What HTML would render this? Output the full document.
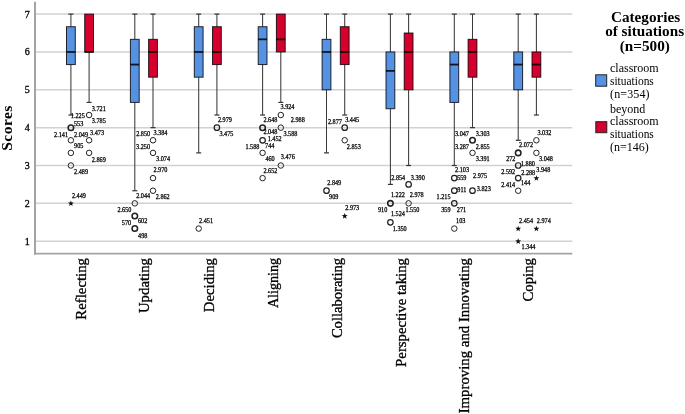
<!DOCTYPE html>
<html><head><meta charset="utf-8"><title>Boxplot</title>
<style>
html,body{margin:0;padding:0;background:#fff;overflow:hidden;}
svg{display:block;will-change:transform;}
.s{font-family:"Liberation Serif",serif;}
</style></head><body>
<svg width="685" height="414" viewBox="0 0 685 414">
<rect x="0" y="0" width="685" height="414" fill="#fff"/>
<line x1="35" y1="241.2" x2="572.3" y2="241.2" stroke="#d2d2d2" stroke-width="1.5"/>
<line x1="35" y1="203.35" x2="572.3" y2="203.35" stroke="#d2d2d2" stroke-width="1.5"/>
<line x1="35" y1="165.5" x2="572.3" y2="165.5" stroke="#d2d2d2" stroke-width="1.5"/>
<line x1="35" y1="127.65" x2="572.3" y2="127.65" stroke="#d2d2d2" stroke-width="1.5"/>
<line x1="35" y1="89.8" x2="572.3" y2="89.8" stroke="#d2d2d2" stroke-width="1.5"/>
<line x1="35" y1="51.95" x2="572.3" y2="51.95" stroke="#d2d2d2" stroke-width="1.5"/>
<line x1="35" y1="14.1" x2="572.3" y2="14.1" stroke="#d2d2d2" stroke-width="1.5"/>
<line x1="35" y1="1.7" x2="35" y2="254.7" stroke="#a4a4a4" stroke-width="2"/>
<line x1="34" y1="253.7" x2="572.3" y2="253.7" stroke="#a4a4a4" stroke-width="1.8"/>
<text class="s" x="29.8" y="244.6" font-size="10" text-anchor="end" fill="#000" stroke="#000" stroke-width="0.3">1</text>
<text class="s" x="29.8" y="206.75" font-size="10" text-anchor="end" fill="#000" stroke="#000" stroke-width="0.3">2</text>
<text class="s" x="29.8" y="168.9" font-size="10" text-anchor="end" fill="#000" stroke="#000" stroke-width="0.3">3</text>
<text class="s" x="29.8" y="131.05" font-size="10" text-anchor="end" fill="#000" stroke="#000" stroke-width="0.3">4</text>
<text class="s" x="29.8" y="93.2" font-size="10" text-anchor="end" fill="#000" stroke="#000" stroke-width="0.3">5</text>
<text class="s" x="29.8" y="55.35" font-size="10" text-anchor="end" fill="#000" stroke="#000" stroke-width="0.3">6</text>
<text class="s" x="29.8" y="17.5" font-size="10" text-anchor="end" fill="#000" stroke="#000" stroke-width="0.3">7</text>
<text class="s" font-weight="bold" font-size="15.6" letter-spacing="0.4" text-anchor="middle" fill="#000" transform="translate(11.5,128.0) rotate(-90)">Scores</text>
<line x1="70.9" y1="14.1" x2="70.9" y2="26.72" stroke="#3a3a3a" stroke-width="1.05"/>
<line x1="68.4" y1="14.1" x2="73.4" y2="14.1" stroke="#333" stroke-width="1.2"/>
<line x1="70.9" y1="64.57" x2="70.9" y2="115.03" stroke="#3a3a3a" stroke-width="1.05"/>
<line x1="68.4" y1="115.03" x2="73.4" y2="115.03" stroke="#333" stroke-width="1.2"/>
<rect x="66.5" y="26.72" width="8.8" height="37.85" fill="#5592e2" stroke="#000" stroke-opacity="0.82" stroke-width="1"/>
<line x1="66.5" y1="51.95" x2="75.3" y2="51.95" stroke="#000" stroke-opacity="0.85" stroke-width="1.8"/>
<line x1="89.1" y1="51.95" x2="89.1" y2="102.42" stroke="#3a3a3a" stroke-width="1.05"/>
<line x1="86.6" y1="102.42" x2="91.6" y2="102.42" stroke="#333" stroke-width="1.2"/>
<rect x="84.7" y="14.1" width="8.8" height="37.85" fill="#d6002f" stroke="#000" stroke-opacity="0.82" stroke-width="1"/>
<line x1="84.7" y1="51.95" x2="93.5" y2="51.95" stroke="#000" stroke-opacity="0.85" stroke-width="1.8"/>
<circle cx="70.9" cy="127.65" r="2.75" fill="none" stroke="#222" stroke-width="1.55"/>
<circle cx="70.9" cy="140.27" r="2.75" fill="none" stroke="#222" stroke-width="1.0"/>
<circle cx="70.9" cy="152.88" r="2.75" fill="none" stroke="#222" stroke-width="1.0"/>
<circle cx="70.9" cy="165.5" r="2.75" fill="none" stroke="#222" stroke-width="1.0"/>
<polygon points="70.9,200.45 71.66,202.5 73.85,202.59 72.14,203.95 72.72,206.06 70.9,204.85 69.08,206.06 69.66,203.95 67.95,202.59 70.14,202.5" fill="#111"/>
<circle cx="89.1" cy="115.03" r="2.75" fill="none" stroke="#222" stroke-width="1.0"/>
<circle cx="89.1" cy="140.27" r="2.75" fill="none" stroke="#222" stroke-width="1.0"/>
<circle cx="89.1" cy="152.88" r="2.75" fill="none" stroke="#222" stroke-width="1.0"/>
<text class="s" font-size="14.8" text-anchor="end" fill="#000" stroke="#000" stroke-width="0.32" transform="translate(85.6,258) rotate(-90)">Reflecting</text>
<line x1="134.8" y1="14.1" x2="134.8" y2="39.33" stroke="#3a3a3a" stroke-width="1.05"/>
<line x1="132.3" y1="14.1" x2="137.3" y2="14.1" stroke="#333" stroke-width="1.2"/>
<line x1="134.8" y1="102.42" x2="134.8" y2="190.73" stroke="#3a3a3a" stroke-width="1.05"/>
<line x1="132.3" y1="190.73" x2="137.3" y2="190.73" stroke="#333" stroke-width="1.2"/>
<rect x="130.4" y="39.33" width="8.8" height="63.08" fill="#5592e2" stroke="#000" stroke-opacity="0.82" stroke-width="1"/>
<line x1="130.4" y1="64.57" x2="139.2" y2="64.57" stroke="#000" stroke-opacity="0.85" stroke-width="1.8"/>
<line x1="153.0" y1="14.1" x2="153.0" y2="39.33" stroke="#3a3a3a" stroke-width="1.05"/>
<line x1="150.5" y1="14.1" x2="155.5" y2="14.1" stroke="#333" stroke-width="1.2"/>
<line x1="153.0" y1="77.18" x2="153.0" y2="127.65" stroke="#3a3a3a" stroke-width="1.05"/>
<line x1="150.5" y1="127.65" x2="155.5" y2="127.65" stroke="#333" stroke-width="1.2"/>
<rect x="148.6" y="39.33" width="8.8" height="37.85" fill="#d6002f" stroke="#000" stroke-opacity="0.82" stroke-width="1"/>
<line x1="148.6" y1="51.95" x2="157.4" y2="51.95" stroke="#000" stroke-opacity="0.85" stroke-width="1.8"/>
<circle cx="134.8" cy="203.35" r="2.75" fill="none" stroke="#222" stroke-width="1.0"/>
<circle cx="134.8" cy="215.97" r="2.75" fill="none" stroke="#222" stroke-width="1.55"/>
<circle cx="134.8" cy="228.58" r="2.75" fill="none" stroke="#222" stroke-width="1.55"/>
<circle cx="153.0" cy="140.27" r="2.75" fill="none" stroke="#222" stroke-width="1.0"/>
<circle cx="153.0" cy="152.88" r="2.75" fill="none" stroke="#222" stroke-width="1.0"/>
<circle cx="153.0" cy="178.12" r="2.75" fill="none" stroke="#222" stroke-width="1.0"/>
<circle cx="153.0" cy="190.73" r="2.75" fill="none" stroke="#222" stroke-width="1.0"/>
<text class="s" font-size="14.8" text-anchor="end" fill="#000" stroke="#000" stroke-width="0.32" transform="translate(148.8,258) rotate(-90)">Updating</text>
<line x1="198.7" y1="14.1" x2="198.7" y2="26.72" stroke="#3a3a3a" stroke-width="1.05"/>
<line x1="196.2" y1="14.1" x2="201.2" y2="14.1" stroke="#333" stroke-width="1.2"/>
<line x1="198.7" y1="77.18" x2="198.7" y2="152.88" stroke="#3a3a3a" stroke-width="1.05"/>
<line x1="196.2" y1="152.88" x2="201.2" y2="152.88" stroke="#333" stroke-width="1.2"/>
<rect x="194.3" y="26.72" width="8.8" height="50.47" fill="#5592e2" stroke="#000" stroke-opacity="0.82" stroke-width="1"/>
<line x1="194.3" y1="51.95" x2="203.1" y2="51.95" stroke="#000" stroke-opacity="0.85" stroke-width="1.8"/>
<line x1="216.9" y1="14.1" x2="216.9" y2="26.72" stroke="#3a3a3a" stroke-width="1.05"/>
<line x1="214.4" y1="14.1" x2="219.4" y2="14.1" stroke="#333" stroke-width="1.2"/>
<line x1="216.9" y1="64.57" x2="216.9" y2="115.03" stroke="#3a3a3a" stroke-width="1.05"/>
<line x1="214.4" y1="115.03" x2="219.4" y2="115.03" stroke="#333" stroke-width="1.2"/>
<rect x="212.5" y="26.72" width="8.8" height="37.85" fill="#d6002f" stroke="#000" stroke-opacity="0.82" stroke-width="1"/>
<line x1="212.5" y1="51.95" x2="221.3" y2="51.95" stroke="#000" stroke-opacity="0.85" stroke-width="1.8"/>
<circle cx="198.7" cy="228.58" r="2.75" fill="none" stroke="#222" stroke-width="1.0"/>
<circle cx="216.9" cy="127.65" r="2.75" fill="none" stroke="#222" stroke-width="1.22"/>
<text class="s" font-size="14.8" text-anchor="end" fill="#000" stroke="#000" stroke-width="0.32" transform="translate(214.2,258) rotate(-90)">Deciding</text>
<line x1="262.6" y1="14.1" x2="262.6" y2="26.72" stroke="#3a3a3a" stroke-width="1.05"/>
<line x1="260.1" y1="14.1" x2="265.1" y2="14.1" stroke="#333" stroke-width="1.2"/>
<line x1="262.6" y1="64.57" x2="262.6" y2="115.03" stroke="#3a3a3a" stroke-width="1.05"/>
<line x1="260.1" y1="115.03" x2="265.1" y2="115.03" stroke="#333" stroke-width="1.2"/>
<rect x="258.2" y="26.72" width="8.8" height="37.85" fill="#5592e2" stroke="#000" stroke-opacity="0.82" stroke-width="1"/>
<line x1="258.2" y1="39.33" x2="267.0" y2="39.33" stroke="#000" stroke-opacity="0.85" stroke-width="1.8"/>
<line x1="280.8" y1="51.95" x2="280.8" y2="102.42" stroke="#3a3a3a" stroke-width="1.05"/>
<line x1="278.3" y1="102.42" x2="283.3" y2="102.42" stroke="#333" stroke-width="1.2"/>
<rect x="276.4" y="14.1" width="8.8" height="37.85" fill="#d6002f" stroke="#000" stroke-opacity="0.82" stroke-width="1"/>
<line x1="276.4" y1="39.33" x2="285.2" y2="39.33" stroke="#000" stroke-opacity="0.85" stroke-width="1.8"/>
<circle cx="262.6" cy="127.65" r="2.75" fill="none" stroke="#222" stroke-width="1.55"/>
<circle cx="262.6" cy="140.27" r="2.75" fill="none" stroke="#222" stroke-width="1.22"/>
<circle cx="262.6" cy="152.88" r="2.75" fill="none" stroke="#222" stroke-width="1.0"/>
<circle cx="262.6" cy="178.12" r="2.75" fill="none" stroke="#222" stroke-width="1.0"/>
<circle cx="280.8" cy="115.03" r="2.75" fill="none" stroke="#222" stroke-width="1.0"/>
<circle cx="280.8" cy="127.65" r="2.75" fill="none" stroke="#222" stroke-width="1.0"/>
<circle cx="280.8" cy="165.5" r="2.75" fill="none" stroke="#222" stroke-width="1.0"/>
<text class="s" font-size="14.8" text-anchor="end" fill="#000" stroke="#000" stroke-width="0.32" textLength="50.1" lengthAdjust="spacingAndGlyphs" transform="translate(278.3,258) rotate(-90)">Aligning</text>
<line x1="326.5" y1="14.1" x2="326.5" y2="39.33" stroke="#3a3a3a" stroke-width="1.05"/>
<line x1="324.0" y1="14.1" x2="329.0" y2="14.1" stroke="#333" stroke-width="1.2"/>
<line x1="326.5" y1="89.8" x2="326.5" y2="152.88" stroke="#3a3a3a" stroke-width="1.05"/>
<line x1="324.0" y1="152.88" x2="329.0" y2="152.88" stroke="#333" stroke-width="1.2"/>
<rect x="322.1" y="39.33" width="8.8" height="50.47" fill="#5592e2" stroke="#000" stroke-opacity="0.82" stroke-width="1"/>
<line x1="322.1" y1="51.95" x2="330.9" y2="51.95" stroke="#000" stroke-opacity="0.85" stroke-width="1.8"/>
<line x1="344.7" y1="14.1" x2="344.7" y2="26.72" stroke="#3a3a3a" stroke-width="1.05"/>
<line x1="342.2" y1="14.1" x2="347.2" y2="14.1" stroke="#333" stroke-width="1.2"/>
<line x1="344.7" y1="64.57" x2="344.7" y2="115.03" stroke="#3a3a3a" stroke-width="1.05"/>
<line x1="342.2" y1="115.03" x2="347.2" y2="115.03" stroke="#333" stroke-width="1.2"/>
<rect x="340.3" y="26.72" width="8.8" height="37.85" fill="#d6002f" stroke="#000" stroke-opacity="0.82" stroke-width="1"/>
<line x1="340.3" y1="51.95" x2="349.1" y2="51.95" stroke="#000" stroke-opacity="0.85" stroke-width="1.8"/>
<circle cx="326.5" cy="190.73" r="2.75" fill="none" stroke="#222" stroke-width="1.22"/>
<circle cx="344.7" cy="127.65" r="2.75" fill="none" stroke="#222" stroke-width="1.22"/>
<circle cx="344.7" cy="140.27" r="2.75" fill="none" stroke="#222" stroke-width="1.0"/>
<polygon points="344.7,213.07 345.46,215.11 347.65,215.21 345.94,216.57 346.52,218.67 344.7,217.47 342.88,218.67 343.46,216.57 341.75,215.21 343.94,215.11" fill="#111"/>
<text class="s" font-size="14.8" text-anchor="end" fill="#000" stroke="#000" stroke-width="0.32" textLength="80.1" lengthAdjust="spacingAndGlyphs" transform="translate(341.9,258) rotate(-90)">Collaborating</text>
<line x1="390.4" y1="14.1" x2="390.4" y2="51.95" stroke="#3a3a3a" stroke-width="1.05"/>
<line x1="387.9" y1="14.1" x2="392.9" y2="14.1" stroke="#333" stroke-width="1.2"/>
<line x1="390.4" y1="108.72" x2="390.4" y2="184.43" stroke="#3a3a3a" stroke-width="1.05"/>
<line x1="387.9" y1="184.43" x2="392.9" y2="184.43" stroke="#333" stroke-width="1.2"/>
<rect x="386.0" y="51.95" width="8.8" height="56.77" fill="#5592e2" stroke="#000" stroke-opacity="0.82" stroke-width="1"/>
<line x1="386.0" y1="70.88" x2="394.8" y2="70.88" stroke="#000" stroke-opacity="0.85" stroke-width="1.8"/>
<line x1="408.6" y1="14.1" x2="408.6" y2="33.02" stroke="#3a3a3a" stroke-width="1.05"/>
<line x1="406.1" y1="14.1" x2="411.1" y2="14.1" stroke="#333" stroke-width="1.2"/>
<line x1="408.6" y1="89.8" x2="408.6" y2="165.5" stroke="#3a3a3a" stroke-width="1.05"/>
<line x1="406.1" y1="165.5" x2="411.1" y2="165.5" stroke="#333" stroke-width="1.2"/>
<rect x="404.2" y="33.02" width="8.8" height="56.77" fill="#d6002f" stroke="#000" stroke-opacity="0.82" stroke-width="1"/>
<line x1="404.2" y1="51.95" x2="413.0" y2="51.95" stroke="#000" stroke-opacity="0.85" stroke-width="1.8"/>
<circle cx="390.4" cy="203.35" r="2.75" fill="none" stroke="#222" stroke-width="1.55"/>
<circle cx="390.4" cy="222.28" r="2.75" fill="none" stroke="#222" stroke-width="1.22"/>
<circle cx="408.6" cy="184.43" r="2.75" fill="none" stroke="#222" stroke-width="1.22"/>
<circle cx="408.6" cy="203.35" r="2.75" fill="none" stroke="#222" stroke-width="1.0"/>
<text class="s" font-size="14.8" text-anchor="end" fill="#000" stroke="#000" stroke-width="0.32" transform="translate(405.9,258) rotate(-90)">Perspective taking</text>
<line x1="454.3" y1="14.1" x2="454.3" y2="51.95" stroke="#3a3a3a" stroke-width="1.05"/>
<line x1="451.8" y1="14.1" x2="456.8" y2="14.1" stroke="#333" stroke-width="1.2"/>
<line x1="454.3" y1="102.42" x2="454.3" y2="165.5" stroke="#3a3a3a" stroke-width="1.05"/>
<line x1="451.8" y1="165.5" x2="456.8" y2="165.5" stroke="#333" stroke-width="1.2"/>
<rect x="449.9" y="51.95" width="8.8" height="50.47" fill="#5592e2" stroke="#000" stroke-opacity="0.82" stroke-width="1"/>
<line x1="449.9" y1="64.57" x2="458.7" y2="64.57" stroke="#000" stroke-opacity="0.85" stroke-width="1.8"/>
<line x1="472.5" y1="14.1" x2="472.5" y2="39.33" stroke="#3a3a3a" stroke-width="1.05"/>
<line x1="470.0" y1="14.1" x2="475.0" y2="14.1" stroke="#333" stroke-width="1.2"/>
<line x1="472.5" y1="77.18" x2="472.5" y2="127.65" stroke="#3a3a3a" stroke-width="1.05"/>
<line x1="470.0" y1="127.65" x2="475.0" y2="127.65" stroke="#333" stroke-width="1.2"/>
<rect x="468.1" y="39.33" width="8.8" height="37.85" fill="#d6002f" stroke="#000" stroke-opacity="0.82" stroke-width="1"/>
<line x1="468.1" y1="51.95" x2="476.9" y2="51.95" stroke="#000" stroke-opacity="0.85" stroke-width="1.8"/>
<circle cx="454.3" cy="178.12" r="2.75" fill="none" stroke="#222" stroke-width="1.22"/>
<circle cx="454.3" cy="190.73" r="2.75" fill="none" stroke="#222" stroke-width="1.22"/>
<circle cx="454.3" cy="203.35" r="2.75" fill="none" stroke="#222" stroke-width="1.22"/>
<circle cx="454.3" cy="228.58" r="2.75" fill="none" stroke="#222" stroke-width="1.0"/>
<circle cx="472.5" cy="140.27" r="2.75" fill="none" stroke="#222" stroke-width="1.55"/>
<circle cx="472.5" cy="152.88" r="2.75" fill="none" stroke="#222" stroke-width="1.0"/>
<circle cx="472.5" cy="190.73" r="2.75" fill="none" stroke="#222" stroke-width="1.22"/>
<text class="s" font-size="14.8" text-anchor="end" fill="#000" stroke="#000" stroke-width="0.32" transform="translate(469.0,258) rotate(-90)">Improving and Innovating</text>
<line x1="518.2" y1="14.1" x2="518.2" y2="51.95" stroke="#3a3a3a" stroke-width="1.05"/>
<line x1="515.7" y1="14.1" x2="520.7" y2="14.1" stroke="#333" stroke-width="1.2"/>
<line x1="518.2" y1="89.8" x2="518.2" y2="140.27" stroke="#3a3a3a" stroke-width="1.05"/>
<line x1="515.7" y1="140.27" x2="520.7" y2="140.27" stroke="#333" stroke-width="1.2"/>
<rect x="513.8" y="51.95" width="8.8" height="37.85" fill="#5592e2" stroke="#000" stroke-opacity="0.82" stroke-width="1"/>
<line x1="513.8" y1="64.57" x2="522.6" y2="64.57" stroke="#000" stroke-opacity="0.85" stroke-width="1.8"/>
<line x1="536.4" y1="14.1" x2="536.4" y2="51.95" stroke="#3a3a3a" stroke-width="1.05"/>
<line x1="533.9" y1="14.1" x2="538.9" y2="14.1" stroke="#333" stroke-width="1.2"/>
<line x1="536.4" y1="77.18" x2="536.4" y2="115.03" stroke="#3a3a3a" stroke-width="1.05"/>
<line x1="533.9" y1="115.03" x2="538.9" y2="115.03" stroke="#333" stroke-width="1.2"/>
<rect x="532.0" y="51.95" width="8.8" height="25.23" fill="#d6002f" stroke="#000" stroke-opacity="0.82" stroke-width="1"/>
<line x1="532.0" y1="64.57" x2="540.8" y2="64.57" stroke="#000" stroke-opacity="0.85" stroke-width="1.8"/>
<circle cx="518.2" cy="152.88" r="2.75" fill="none" stroke="#222" stroke-width="1.55"/>
<circle cx="518.2" cy="165.5" r="2.75" fill="none" stroke="#222" stroke-width="1.22"/>
<circle cx="518.2" cy="178.12" r="2.75" fill="none" stroke="#222" stroke-width="1.22"/>
<circle cx="518.2" cy="190.73" r="2.75" fill="none" stroke="#222" stroke-width="1.0"/>
<polygon points="518.2,225.68 518.96,227.73 521.15,227.83 519.44,229.19 520.02,231.29 518.2,230.08 516.38,231.29 516.96,229.19 515.25,227.83 517.44,227.73" fill="#111"/>
<polygon points="518.2,238.3 518.96,240.35 521.15,240.44 519.44,241.8 520.02,243.91 518.2,242.7 516.38,243.91 516.96,241.8 515.25,240.44 517.44,240.35" fill="#111"/>
<circle cx="536.4" cy="140.27" r="2.75" fill="none" stroke="#222" stroke-width="1.0"/>
<circle cx="536.4" cy="152.88" r="2.75" fill="none" stroke="#222" stroke-width="1.0"/>
<polygon points="536.4,175.22 537.16,177.26 539.35,177.36 537.64,178.72 538.22,180.82 536.4,179.62 534.58,180.82 535.16,178.72 533.45,177.36 535.64,177.26" fill="#111"/>
<polygon points="536.4,225.68 537.16,227.73 539.35,227.83 537.64,229.19 538.22,231.29 536.4,230.08 534.58,231.29 535.16,229.19 533.45,227.83 535.64,227.73" fill="#111"/>
<text class="s" font-size="14.8" text-anchor="end" fill="#000" stroke="#000" stroke-width="0.32" transform="translate(533.3,258) rotate(-90)">Coping</text>
<text class="s" transform="translate(91.81,111.1) scale(0.84,1)" font-size="7.4" text-rendering="geometricPrecision" fill="#000" stroke="#000" stroke-width="0.28">3.721</text>
<text class="s" transform="translate(70.86,118.2) scale(0.84,1)" font-size="7.4" text-rendering="geometricPrecision" fill="#000" stroke="#000" stroke-width="0.28">1.225</text>
<text class="s" transform="translate(91.81,123.4) scale(0.84,1)" font-size="7.4" text-rendering="geometricPrecision" fill="#000" stroke="#000" stroke-width="0.28">3.785</text>
<text class="s" transform="translate(73.94,125.7) scale(0.84,1)" font-size="7.4" text-rendering="geometricPrecision" fill="#000" stroke="#000" stroke-width="0.28">553</text>
<text class="s" transform="translate(54.03,136.8) scale(0.84,1)" font-size="7.4" text-rendering="geometricPrecision" fill="#000" stroke="#000" stroke-width="0.28">2.141</text>
<text class="s" transform="translate(74.03,136.8) scale(0.84,1)" font-size="7.4" text-rendering="geometricPrecision" fill="#000" stroke="#000" stroke-width="0.28">2.049</text>
<text class="s" transform="translate(90.11,135.2) scale(0.84,1)" font-size="7.4" text-rendering="geometricPrecision" fill="#000" stroke="#000" stroke-width="0.28">3.473</text>
<text class="s" transform="translate(74.1,147.7) scale(0.84,1)" font-size="7.4" text-rendering="geometricPrecision" fill="#000" stroke="#000" stroke-width="0.28">905</text>
<text class="s" transform="translate(91.83,161.5) scale(0.84,1)" font-size="7.4" text-rendering="geometricPrecision" fill="#000" stroke="#000" stroke-width="0.28">2.869</text>
<text class="s" transform="translate(74.03,174.1) scale(0.84,1)" font-size="7.4" text-rendering="geometricPrecision" fill="#000" stroke="#000" stroke-width="0.28">2.489</text>
<text class="s" transform="translate(71.93,197.5) scale(0.84,1)" font-size="7.4" text-rendering="geometricPrecision" fill="#000" stroke="#000" stroke-width="0.28">2.449</text>
<text class="s" transform="translate(136.13,136.4) scale(0.84,1)" font-size="7.4" text-rendering="geometricPrecision" fill="#000" stroke="#000" stroke-width="0.28">2.850</text>
<text class="s" transform="translate(153.41,135.1) scale(0.84,1)" font-size="7.4" text-rendering="geometricPrecision" fill="#000" stroke="#000" stroke-width="0.28">3.384</text>
<text class="s" transform="translate(136.11,148.6) scale(0.84,1)" font-size="7.4" text-rendering="geometricPrecision" fill="#000" stroke="#000" stroke-width="0.28">3.250</text>
<text class="s" transform="translate(156.11,160.8) scale(0.84,1)" font-size="7.4" text-rendering="geometricPrecision" fill="#000" stroke="#000" stroke-width="0.28">3.074</text>
<text class="s" transform="translate(153.43,172.4) scale(0.84,1)" font-size="7.4" text-rendering="geometricPrecision" fill="#000" stroke="#000" stroke-width="0.28">2.970</text>
<text class="s" transform="translate(136.13,197.5) scale(0.84,1)" font-size="7.4" text-rendering="geometricPrecision" fill="#000" stroke="#000" stroke-width="0.28">2.044</text>
<text class="s" transform="translate(155.73,199.1) scale(0.84,1)" font-size="7.4" text-rendering="geometricPrecision" fill="#000" stroke="#000" stroke-width="0.28">2.862</text>
<text class="s" transform="translate(117.43,211.7) scale(0.84,1)" font-size="7.4" text-rendering="geometricPrecision" fill="#000" stroke="#000" stroke-width="0.28">2.650</text>
<text class="s" transform="translate(121.84,225.1) scale(0.84,1)" font-size="7.4" text-rendering="geometricPrecision" fill="#000" stroke="#000" stroke-width="0.28">570</text>
<text class="s" transform="translate(137.94,222.8) scale(0.84,1)" font-size="7.4" text-rendering="geometricPrecision" fill="#000" stroke="#000" stroke-width="0.28">602</text>
<text class="s" transform="translate(138.08,237.5) scale(0.84,1)" font-size="7.4" text-rendering="geometricPrecision" fill="#000" stroke="#000" stroke-width="0.28">498</text>
<text class="s" transform="translate(217.93,122.0) scale(0.84,1)" font-size="7.4" text-rendering="geometricPrecision" fill="#000" stroke="#000" stroke-width="0.28">2.979</text>
<text class="s" transform="translate(219.41,136.4) scale(0.84,1)" font-size="7.4" text-rendering="geometricPrecision" fill="#000" stroke="#000" stroke-width="0.28">3.475</text>
<text class="s" transform="translate(199.03,222.8) scale(0.84,1)" font-size="7.4" text-rendering="geometricPrecision" fill="#000" stroke="#000" stroke-width="0.28">2.451</text>
<text class="s" transform="translate(263.43,122.4) scale(0.84,1)" font-size="7.4" text-rendering="geometricPrecision" fill="#000" stroke="#000" stroke-width="0.28">2.648</text>
<text class="s" transform="translate(280.51,109.1) scale(0.84,1)" font-size="7.4" text-rendering="geometricPrecision" fill="#000" stroke="#000" stroke-width="0.28">3.924</text>
<text class="s" transform="translate(290.83,122.0) scale(0.84,1)" font-size="7.4" text-rendering="geometricPrecision" fill="#000" stroke="#000" stroke-width="0.28">2.988</text>
<text class="s" transform="translate(263.43,134.2) scale(0.84,1)" font-size="7.4" text-rendering="geometricPrecision" fill="#000" stroke="#000" stroke-width="0.28">2.048</text>
<text class="s" transform="translate(283.41,136.4) scale(0.84,1)" font-size="7.4" text-rendering="geometricPrecision" fill="#000" stroke="#000" stroke-width="0.28">3.588</text>
<text class="s" transform="translate(267.66,141.3) scale(0.84,1)" font-size="7.4" text-rendering="geometricPrecision" fill="#000" stroke="#000" stroke-width="0.28">1.452</text>
<text class="s" transform="translate(245.46,148.6) scale(0.84,1)" font-size="7.4" text-rendering="geometricPrecision" fill="#000" stroke="#000" stroke-width="0.28">1.588</text>
<text class="s" transform="translate(265.1,148.0) scale(0.84,1)" font-size="7.4" text-rendering="geometricPrecision" fill="#000" stroke="#000" stroke-width="0.28">744</text>
<text class="s" transform="translate(265.38,160.8) scale(0.84,1)" font-size="7.4" text-rendering="geometricPrecision" fill="#000" stroke="#000" stroke-width="0.28">460</text>
<text class="s" transform="translate(280.81,159.1) scale(0.84,1)" font-size="7.4" text-rendering="geometricPrecision" fill="#000" stroke="#000" stroke-width="0.28">3.476</text>
<text class="s" transform="translate(263.43,172.6) scale(0.84,1)" font-size="7.4" text-rendering="geometricPrecision" fill="#000" stroke="#000" stroke-width="0.28">2.652</text>
<text class="s" transform="translate(327.93,123.5) scale(0.84,1)" font-size="7.4" text-rendering="geometricPrecision" fill="#000" stroke="#000" stroke-width="0.28">2.877</text>
<text class="s" transform="translate(345.21,122.0) scale(0.84,1)" font-size="7.4" text-rendering="geometricPrecision" fill="#000" stroke="#000" stroke-width="0.28">3.445</text>
<text class="s" transform="translate(346.83,149.1) scale(0.84,1)" font-size="7.4" text-rendering="geometricPrecision" fill="#000" stroke="#000" stroke-width="0.28">2.853</text>
<text class="s" transform="translate(327.23,185.3) scale(0.84,1)" font-size="7.4" text-rendering="geometricPrecision" fill="#000" stroke="#000" stroke-width="0.28">2.849</text>
<text class="s" transform="translate(329.1,199.1) scale(0.84,1)" font-size="7.4" text-rendering="geometricPrecision" fill="#000" stroke="#000" stroke-width="0.28">909</text>
<text class="s" transform="translate(345.23,210.2) scale(0.84,1)" font-size="7.4" text-rendering="geometricPrecision" fill="#000" stroke="#000" stroke-width="0.28">2.973</text>
<text class="s" transform="translate(391.23,180.2) scale(0.84,1)" font-size="7.4" text-rendering="geometricPrecision" fill="#000" stroke="#000" stroke-width="0.28">2.854</text>
<text class="s" transform="translate(410.81,180.2) scale(0.84,1)" font-size="7.4" text-rendering="geometricPrecision" fill="#000" stroke="#000" stroke-width="0.28">3.390</text>
<text class="s" transform="translate(390.96,197.3) scale(0.84,1)" font-size="7.4" text-rendering="geometricPrecision" fill="#000" stroke="#000" stroke-width="0.28">1.222</text>
<text class="s" transform="translate(409.73,197.3) scale(0.84,1)" font-size="7.4" text-rendering="geometricPrecision" fill="#000" stroke="#000" stroke-width="0.28">2.978</text>
<text class="s" transform="translate(378.0,211.7) scale(0.84,1)" font-size="7.4" text-rendering="geometricPrecision" fill="#000" stroke="#000" stroke-width="0.28">910</text>
<text class="s" transform="translate(405.46,211.7) scale(0.84,1)" font-size="7.4" text-rendering="geometricPrecision" fill="#000" stroke="#000" stroke-width="0.28">1.550</text>
<text class="s" transform="translate(390.96,216.4) scale(0.84,1)" font-size="7.4" text-rendering="geometricPrecision" fill="#000" stroke="#000" stroke-width="0.28">1.524</text>
<text class="s" transform="translate(392.76,230.8) scale(0.84,1)" font-size="7.4" text-rendering="geometricPrecision" fill="#000" stroke="#000" stroke-width="0.28">1.350</text>
<text class="s" transform="translate(455.01,136.4) scale(0.84,1)" font-size="7.4" text-rendering="geometricPrecision" fill="#000" stroke="#000" stroke-width="0.28">3.047</text>
<text class="s" transform="translate(475.71,136.4) scale(0.84,1)" font-size="7.4" text-rendering="geometricPrecision" fill="#000" stroke="#000" stroke-width="0.28">3.303</text>
<text class="s" transform="translate(455.01,149.1) scale(0.84,1)" font-size="7.4" text-rendering="geometricPrecision" fill="#000" stroke="#000" stroke-width="0.28">3.287</text>
<text class="s" transform="translate(475.73,149.1) scale(0.84,1)" font-size="7.4" text-rendering="geometricPrecision" fill="#000" stroke="#000" stroke-width="0.28">2.855</text>
<text class="s" transform="translate(475.71,161.3) scale(0.84,1)" font-size="7.4" text-rendering="geometricPrecision" fill="#000" stroke="#000" stroke-width="0.28">3.391</text>
<text class="s" transform="translate(455.03,172.4) scale(0.84,1)" font-size="7.4" text-rendering="geometricPrecision" fill="#000" stroke="#000" stroke-width="0.28">2.103</text>
<text class="s" transform="translate(457.14,179.7) scale(0.84,1)" font-size="7.4" text-rendering="geometricPrecision" fill="#000" stroke="#000" stroke-width="0.28">559</text>
<text class="s" transform="translate(473.03,178.4) scale(0.84,1)" font-size="7.4" text-rendering="geometricPrecision" fill="#000" stroke="#000" stroke-width="0.28">2.975</text>
<text class="s" transform="translate(457.3,192.4) scale(0.84,1)" font-size="7.4" text-rendering="geometricPrecision" fill="#000" stroke="#000" stroke-width="0.28">911</text>
<text class="s" transform="translate(476.81,190.8) scale(0.84,1)" font-size="7.4" text-rendering="geometricPrecision" fill="#000" stroke="#000" stroke-width="0.28">3.823</text>
<text class="s" transform="translate(436.56,199.1) scale(0.84,1)" font-size="7.4" text-rendering="geometricPrecision" fill="#000" stroke="#000" stroke-width="0.28">1.215</text>
<text class="s" transform="translate(441.21,211.7) scale(0.84,1)" font-size="7.4" text-rendering="geometricPrecision" fill="#000" stroke="#000" stroke-width="0.28">359</text>
<text class="s" transform="translate(456.83,211.7) scale(0.84,1)" font-size="7.4" text-rendering="geometricPrecision" fill="#000" stroke="#000" stroke-width="0.28">271</text>
<text class="s" transform="translate(456.06,222.8) scale(0.84,1)" font-size="7.4" text-rendering="geometricPrecision" fill="#000" stroke="#000" stroke-width="0.28">103</text>
<text class="s" transform="translate(537.41,135.1) scale(0.84,1)" font-size="7.4" text-rendering="geometricPrecision" fill="#000" stroke="#000" stroke-width="0.28">3.032</text>
<text class="s" transform="translate(519.03,146.8) scale(0.84,1)" font-size="7.4" text-rendering="geometricPrecision" fill="#000" stroke="#000" stroke-width="0.28">2.072</text>
<text class="s" transform="translate(506.13,161.3) scale(0.84,1)" font-size="7.4" text-rendering="geometricPrecision" fill="#000" stroke="#000" stroke-width="0.28">272</text>
<text class="s" transform="translate(539.01,161.3) scale(0.84,1)" font-size="7.4" text-rendering="geometricPrecision" fill="#000" stroke="#000" stroke-width="0.28">3.048</text>
<text class="s" transform="translate(520.96,166.0) scale(0.84,1)" font-size="7.4" text-rendering="geometricPrecision" fill="#000" stroke="#000" stroke-width="0.28">1.880</text>
<text class="s" transform="translate(501.23,173.5) scale(0.84,1)" font-size="7.4" text-rendering="geometricPrecision" fill="#000" stroke="#000" stroke-width="0.28">2.592</text>
<text class="s" transform="translate(521.23,175.3) scale(0.84,1)" font-size="7.4" text-rendering="geometricPrecision" fill="#000" stroke="#000" stroke-width="0.28">2.288</text>
<text class="s" transform="translate(536.31,172.4) scale(0.84,1)" font-size="7.4" text-rendering="geometricPrecision" fill="#000" stroke="#000" stroke-width="0.28">3.948</text>
<text class="s" transform="translate(501.23,186.8) scale(0.84,1)" font-size="7.4" text-rendering="geometricPrecision" fill="#000" stroke="#000" stroke-width="0.28">2.414</text>
<text class="s" transform="translate(520.96,184.6) scale(0.84,1)" font-size="7.4" text-rendering="geometricPrecision" fill="#000" stroke="#000" stroke-width="0.28">144</text>
<text class="s" transform="translate(519.03,222.8) scale(0.84,1)" font-size="7.4" text-rendering="geometricPrecision" fill="#000" stroke="#000" stroke-width="0.28">2.454</text>
<text class="s" transform="translate(536.83,222.8) scale(0.84,1)" font-size="7.4" text-rendering="geometricPrecision" fill="#000" stroke="#000" stroke-width="0.28">2.974</text>
<text class="s" transform="translate(521.46,249.1) scale(0.84,1)" font-size="7.4" text-rendering="geometricPrecision" fill="#000" stroke="#000" stroke-width="0.28">1.344</text>
<g class="s" font-weight="bold" font-size="15.2" text-anchor="middle" fill="#000"><text x="645.6" y="21.7">Categories</text><text x="644.6" y="36.3">of situations</text><text x="644.8" y="51.4">(n=500)</text></g>
<rect x="595.7" y="74.8" width="11" height="11.4" fill="#5592e2" stroke="#222" stroke-width="1"/>
<rect x="595.8" y="121.7" width="11" height="11" fill="#d6002f" stroke="#222" stroke-width="1"/>
<g class="s" font-size="12" fill="#000"><text x="610" y="72.3">classroom</text><text x="610" y="85" textLength="43.8" lengthAdjust="spacingAndGlyphs">situations</text><text x="610" y="97.6" textLength="39.6">(n=354)</text><text x="610" y="112.5">beyond</text><text x="610" y="125.4">classroom</text><text x="610" y="138.3" textLength="43.8" lengthAdjust="spacingAndGlyphs">situations</text><text x="610" y="151.1">(n=146)</text></g>
</svg>
</body></html>
